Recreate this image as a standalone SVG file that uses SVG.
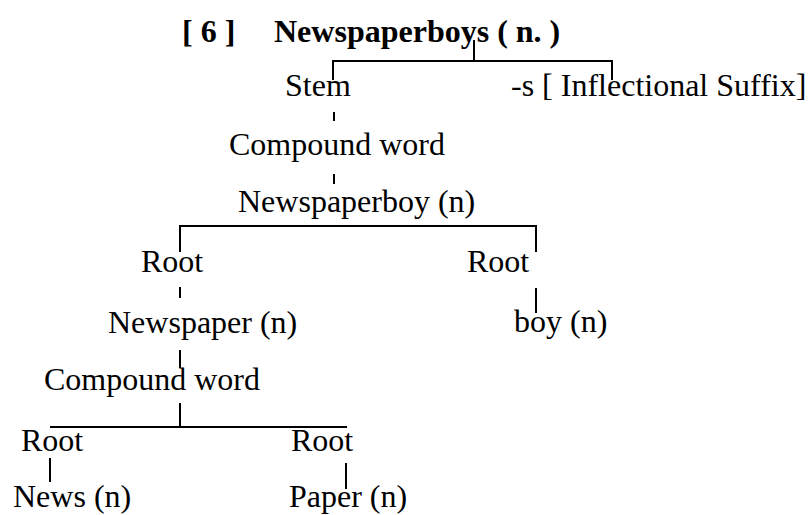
<svg xmlns="http://www.w3.org/2000/svg" width="808" height="515" viewBox="0 0 808 515">
  <style>
    .t { font-family: "Liberation Serif", "Times New Roman", serif; font-size: 32px; fill: #000; }
    .b { font-weight: bold; }
    .e { stroke: #000; stroke-width: 2; fill: none; }
  </style>
  <rect width="808" height="515" fill="#fff"/>

  <!-- tree branches -->
  <g id="connectors">
    <polyline class="e" points="333,80 333,61 612,61 612,80"/>
    <line class="e" x1="474" y1="40" x2="474" y2="61"/>
    <line class="e" x1="334" y1="112" x2="334" y2="121"/>
    <line class="e" x1="334" y1="174" x2="334" y2="184"/>
    <polyline class="e" points="180,252 180,226 536,226 536,252"/>
    <line class="e" x1="180" y1="287" x2="180" y2="298"/>
    <line class="e" x1="536" y1="288" x2="536" y2="313"/>
    <line class="e" x1="180" y1="350" x2="180" y2="368"/>
    <line class="e" x1="180" y1="403" x2="180" y2="427"/>
    <line class="e" x1="50" y1="427" x2="347" y2="427"/>
    <line class="e" x1="50" y1="458" x2="50" y2="482"/>
    <line class="e" x1="346" y1="463" x2="346" y2="489"/>
  </g>

  <g id="title">
    <text class="t b" x="182" y="42">[ 6 ]</text>
    <text class="t b" x="274" y="42">Newspaperboys ( n. )</text>
  </g>
  <g id="stem"><text class="t" x="285" y="96">Stem</text></g>
  <g id="suffix"><text class="t" x="511" y="96">-s [ Inflectional Suffix]</text></g>
  <g id="compound1"><text class="t" x="229" y="155">Compound word</text></g>
  <g id="newspaperboy"><text class="t" x="238" y="212">Newspaperboy (n)</text></g>
  <g id="root-left"><text class="t" x="141" y="272">Root</text></g>
  <g id="root-right"><text class="t" x="467" y="272">Root</text></g>
  <g id="newspaper"><text class="t" x="108" y="333">Newspaper (n)</text></g>
  <g id="boy"><text class="t" x="514" y="332">boy (n)</text></g>
  <g id="compound2"><text class="t" x="44" y="390">Compound word</text></g>
  <g id="root-news"><text class="t" x="21" y="451">Root</text></g>
  <g id="root-paper"><text class="t" x="291" y="451">Root</text></g>
  <g id="news"><text class="t" x="13" y="507">News (n)</text></g>
  <g id="paper"><text class="t" x="289" y="507">Paper (n)</text></g>
</svg>
